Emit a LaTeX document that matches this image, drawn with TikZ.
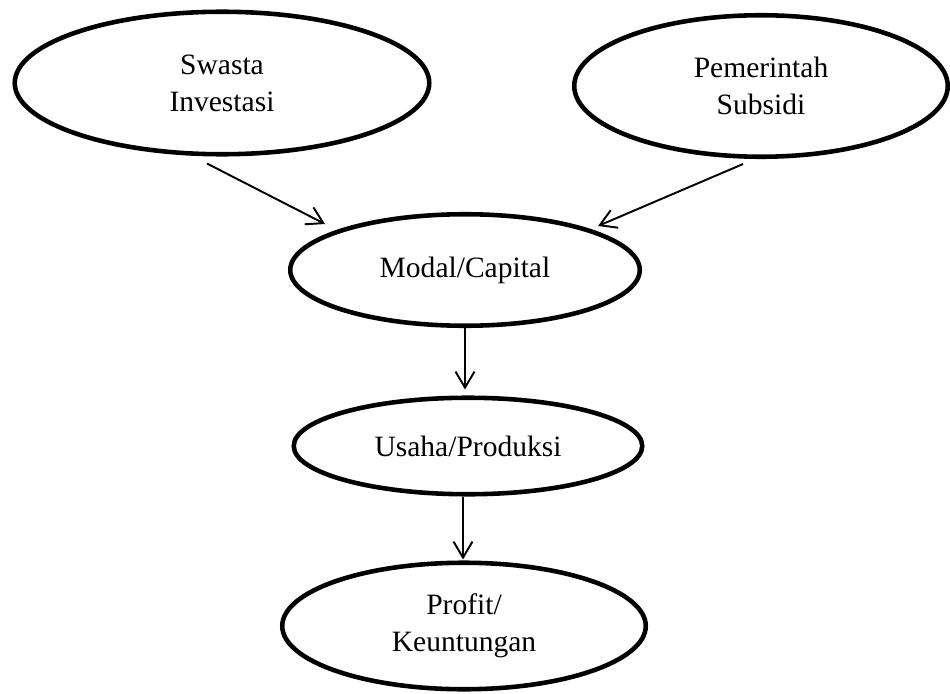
\documentclass[tikz,border=0pt]{standalone}
\usepackage{fontspec}
\setmainfont{Liberation Serif}
\usepackage{tikz}
\usetikzlibrary{shapes,arrows.meta,positioning,calc}

\tikzset{
    oval/.style={ellipse, draw, line width=2.6pt, align=center,
        font=\fontsize{16.8}{21}\selectfont},
    link/.style={line width=1.1pt, -{Straight Barb[length=0.32cm,width=0.38cm,line width=1.1pt]}}
}

\begin{document}
\begin{tikzpicture}
    \useasboundingbox (0,0) rectangle (19,-13.86);

    % Ovals
    \node[oval, minimum width=8.29cm, minimum height=2.85cm] (swasta) at (4.44,-1.66) {Swasta\\Investasi};
    \node[oval, minimum width=7.47cm, minimum height=2.83cm] (pemerintah) at (15.22,-1.72) {Pemerintah\\Subsidi};
    \node[oval, minimum width=6.99cm, minimum height=2.23cm] (modal) at (9.30,-5.40) {Modal/Capital};
    \node[oval, minimum width=6.97cm, minimum height=1.93cm] (usaha) at (9.36,-8.92) {Usaha/Produksi};
    \node[oval, minimum width=7.27cm, minimum height=2.53cm] (profit) at (9.28,-12.52) {Profit/\\Keuntungan};

    % Arrows
    \draw[link] ([xshift=-0.30cm,yshift=-0.14cm]swasta.south) -- ([xshift=-2.80cm,yshift=0.92cm]modal.center);
    \draw[link] ([xshift=-0.36cm,yshift=-0.10cm]pemerintah.south) -- ([xshift=2.66cm,yshift=0.88cm]modal.center);
    \draw[link, shorten >=0.12cm] (modal.south) -- (modal.south |- usaha.north);
    \draw[link, shorten >=0.02cm] ([xshift=-0.1cm]usaha.south) -- ([xshift=-0.1cm]usaha.south |- profit.north);
\end{tikzpicture}
\end{document}
